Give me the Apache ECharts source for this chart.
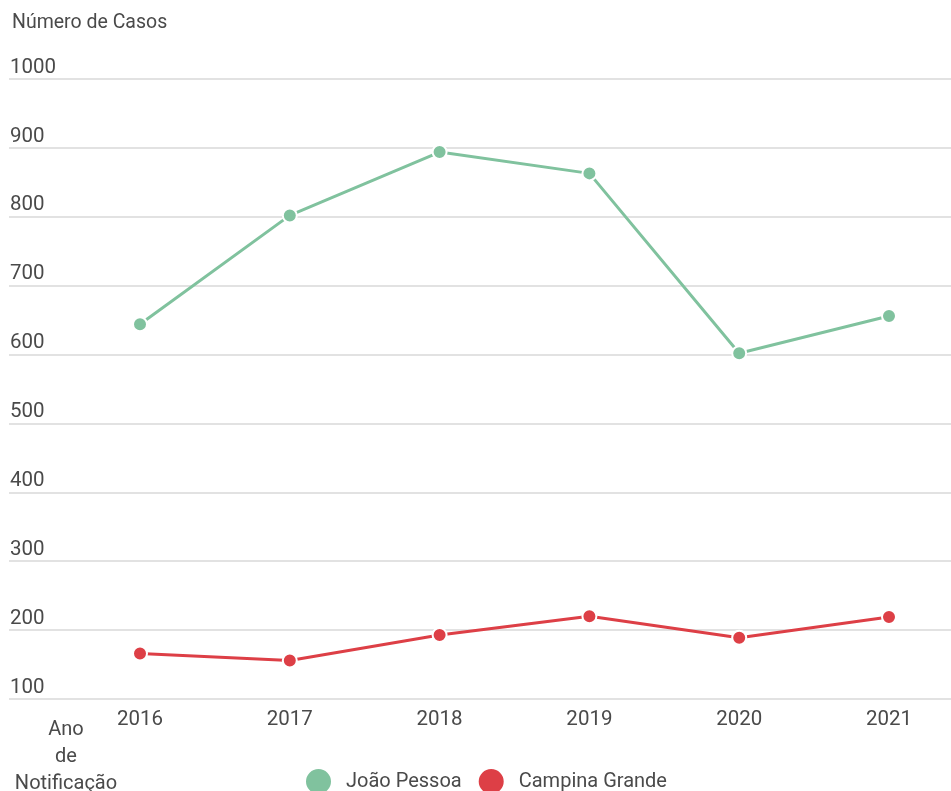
<!DOCTYPE html>
<html>
<head>
<meta charset="utf-8">
<script src="https://cdn.jsdelivr.net/npm/echarts@6/dist/echarts.min.js"></script>
<style>
html,body{margin:0;padding:0;background:#fff;}
#chart{width:951px;height:791px;}
</style>
</head>
<body>
<div id="chart"></div>
<script>
const years = ['2016', '2017', '2018', '2019', '2020', '2021'];
const joaoPessoa = [644, 802, 894, 863, 602, 656];
const campinaGrande = [166, 156, 193, 220, 189, 219];
const yMin = 100, yMax = 1000, yStep = 100;
const seriesNames = ['João Pessoa', 'Campina Grande'];
const xAxisTitle = 'Ano\nde\nNotificação';
const yAxisTitle = 'Número de Casos';
const colors = ['#80c29e', '#dd3f46'];

const chart = echarts.init(document.getElementById('chart'));
const font = 'Roboto, sans-serif';
const textColor = '#4a4a4a';
chart.setOption({
  animation: false,
  backgroundColor: '#fff',
  color: colors,
  title: {
    text: yAxisTitle,
    left: 10, top: 13, padding: [0, 0, 0, 2],
    textStyle: {fontFamily: font, fontSize: 19.5, fontWeight: 'normal', color: textColor}
  },
  graphic: [{
    type: 'text', x: 66, y: 716,
    style: {text: xAxisTitle, align: 'center', verticalAlign: 'top', lineHeight: 27,
            fontFamily: font, fontSize: 20, fill: textColor}
  }],
  legend: {
    data: seriesNames,
    left: 304, top: 767, padding: 0,
    icon: 'circle',
    itemWidth: 27, itemHeight: 27,
    itemGap: 15,
    textStyle: {fontFamily: font, fontSize: 20, color: textColor, padding: [0, 0, 0, 9]}
  },
  grid: [
    {left: 9, right: 0, top: 79, bottom: 92, containLabel: false, outerBoundsMode: 'none'},
    {left: 140, right: 62, top: 79, bottom: 92, containLabel: false, outerBoundsMode: 'none'}
  ],
  xAxis: [
    {gridIndex: 0, type: 'category', data: years, show: false},
    {gridIndex: 1, type: 'category', data: years, boundaryGap: false,
     axisLine: {show: false}, axisTick: {show: false},
     axisLabel: {fontFamily: font, fontSize: 20.5, color: textColor, margin: 10}
    }
  ],
  yAxis: [
    {gridIndex: 0, type: 'value', min: yMin, max: yMax, interval: yStep,
     axisLine: {show: false}, axisTick: {show: false},
     splitLine: {lineStyle: {color: '#e2e2e2', width: 2}},
     axisLabel: {inside: true, fontFamily: font, fontSize: 20.5, color: textColor, verticalAlign: 'bottom', margin: 1, padding: [0, 0, 1, 0],
                 formatter: function (v) { return String(v); }}
    },
    {gridIndex: 1, type: 'value', min: yMin, max: yMax, interval: yStep, show: false, splitLine: {show: false}}
  ],
  series: [
    {name: seriesNames[0], type: 'line', xAxisIndex: 1, yAxisIndex: 1, data: joaoPessoa,
     symbol: 'circle', symbolSize: 14, lineStyle: {width: 3, color: colors[0]},
     itemStyle: {color: colors[0], borderColor: '#fff', borderWidth: 2}},
    {name: seriesNames[1], type: 'line', xAxisIndex: 1, yAxisIndex: 1, data: campinaGrande,
     symbol: 'circle', symbolSize: 14, lineStyle: {width: 3, color: colors[1]},
     itemStyle: {color: colors[1], borderColor: '#fff', borderWidth: 2}}
  ]
});
</script>
</body>
</html>
